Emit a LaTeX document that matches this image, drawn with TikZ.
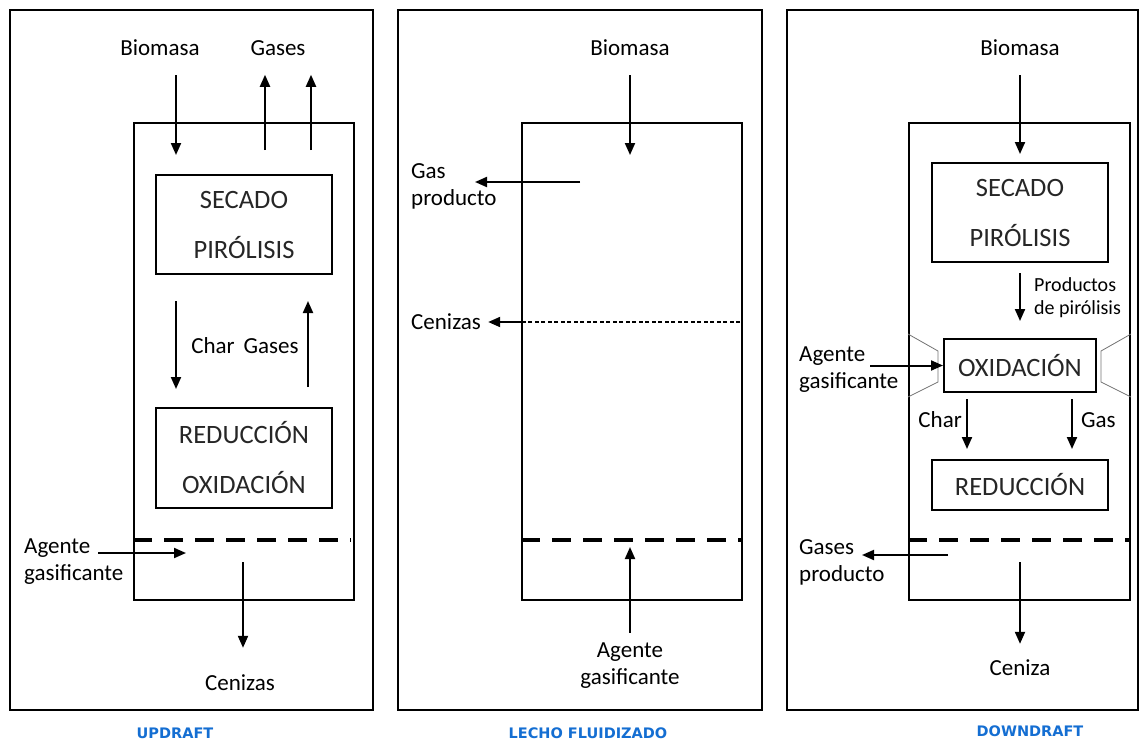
\documentclass[tikz,border=0pt]{standalone}
\usepackage{fontspec}
\setmainfont{Carlito}
\newfontfamily\capfont{DejaVu Sans}
\usetikzlibrary{arrows.meta, positioning}
\definecolor{capblue}{RGB}{20,110,210}

\begin{document}
\begin{tikzpicture}[
    x=1pt, y=-1pt,
    >={Triangle[length=12pt, width=10pt]},
    % Node styles
    framebox/.style={
        rectangle, draw=black, line width=2pt, inner sep=0pt
    },
    reactorbox/.style={
        rectangle, draw=black, line width=2pt, inner sep=0pt
    },
    stagebox/.style={
        rectangle, draw=black, line width=2pt, inner sep=0pt,
        align=center, text=black!85,
        font=\fontsize{26.5}{50}\selectfont
    },
    lbl/.style={inner sep=0pt, text=black, font=\fontsize{23}{27}\selectfont},
    smalllbl/.style={inner sep=0pt, text=black, align=left, font=\fontsize{20}{23}\selectfont},
    caplbl/.style={inner sep=0pt, text=capblue, font=\capfont\bfseries\fontsize{14.5}{17}\selectfont},
    flow/.style={->, line width=2pt, draw=black},
    grate/.style={line width=3.8pt, dash pattern=on 19pt off 12pt},
    ashline/.style={line width=1.3pt, dash pattern=on 4pt off 2.5pt},
    throat/.style={line width=0.8pt, draw=black!55},
]
\useasboundingbox (0,0) rectangle (1140,742);

%% ---- PANEL 1: UPDRAFT ----
\node[framebox, minimum width=363pt, minimum height=700pt] (upframe) at (191.5,360) {};
\node[reactorbox, minimum width=220pt, minimum height=477pt] (upreactor) at (244,361.5) {};
\node[stagebox, minimum width=176pt, minimum height=99pt] (upsecado) at (244,224.5) {SECADO\\PIRÓLISIS};
\node[stagebox, minimum width=176pt, minimum height=100pt] (upreduc) at (244,458) {REDUCCIÓN\\OXIDACIÓN};
\draw[grate] (upreactor.west |- 0,540) -- ([xshift=-4pt]upreactor.east |- 0,540);

\node[lbl] (upbio) at (160,48) {Biomasa};
\node[lbl] (upgas) at (278,48) {Gases};
\coordinate (upfeed) at (176,155);
\coordinate (upgasa) at (265,150);
\coordinate (upgasb) at (311,150);
\draw[flow, shorten <=19pt] (upfeed |- upbio.south) -- (upfeed);
\draw[flow, shorten >=19pt] (upgasa) -- (upgasa |- upgas.south);
\draw[flow, shorten >=19pt] (upgasb) -- (upgasb |- upgas.south);

% Char down, gases up
\draw[flow, shorten <=26pt, shorten >=18pt] ([xshift=-68pt]upsecado.south) -- ([xshift=-68pt]upreduc.north);
\draw[flow, shorten <=20pt, shorten >=26pt] ([xshift=64pt]upreduc.north) -- ([xshift=64pt]upsecado.south);
\node[lbl] (upmid) at (245,346) {Char\hspace{9pt}Gases};

\node[lbl, align=left, anchor=west] (upagente) at (24,562) {Agente\\gasificante};
\coordinate (upairin) at (186,553);
\draw[flow] ([xshift=74pt]upagente.west |- upairin) -- (upairin);

\coordinate (upashout) at (243,562);
\node[lbl] (upcen) at (240,683) {Cenizas};
\draw[flow, shorten >=27pt] (upashout) -- (upashout |- upcen.north);

\node[caplbl] (upcap) at (175,733) {UPDRAFT};

%% ---- PANEL 2: LECHO FLUIDIZADO ----
\node[framebox, minimum width=364pt, minimum height=700pt] (flframe) at (580,360) {};
\node[reactorbox, minimum width=220pt, minimum height=477pt] (flreactor) at (632,361.5) {};

\node[lbl] (flbio) at (630,48) {Biomasa};
\coordinate (flfeed) at (630,155);
\draw[flow, shorten <=19pt] (flfeed |- flbio.south) -- (flfeed);

\node[lbl, align=left, anchor=west] (flgasprod) at (411,186) {Gas\\producto};
\coordinate (flgasout) at (580,182);
\draw[flow] (flgasout) -- ([xshift=64pt]flgasprod.west |- flgasout);

\node[lbl, anchor=west] (flcen) at (411,322) {Cenizas};
\coordinate (flash) at (740,322);
\draw[ashline] (flash) -- (flreactor.west |- flash);
\draw[flow] (flreactor.west |- flash) -- ([xshift=7pt]flcen.east);

\draw[grate] (flreactor.west |- 0,540) -- ([xshift=-2pt]flreactor.east |- 0,540);
\node[lbl, align=center] (flagente) at (630,666) {Agente\\gasificante};
\coordinate (flairin) at (630,547);
\draw[flow, shorten <=10pt] (flagente.north) -- (flairin);

\node[caplbl] (flcap) at (588,733) {LECHO FLUIDIZADO};

%% ---- PANEL 3: DOWNDRAFT ----
\node[framebox, minimum width=351pt, minimum height=700pt] (dnframe) at (962.5,360) {};
\node[reactorbox, minimum width=221pt, minimum height=477pt] (dnreactor) at (1019.5,361.5) {};
\node[stagebox, minimum width=176pt, minimum height=99pt] (dnsecado) at (1020,212.5) {SECADO\\PIRÓLISIS};
\node[stagebox, minimum width=152pt, minimum height=53pt] (dnoxid) at (1020,365.5) {OXIDACIÓN};
\node[stagebox, minimum width=176pt, minimum height=50pt] (dnreduc) at (1020,485) {REDUCCIÓN};

% throat
\draw[throat] (dnreactor.west |- 0,334) -- (938,351) -- (938,382) -- (dnreactor.west |- 0,397);
\draw[throat] (dnreactor.east |- 0,334) -- (1101,351) -- (1101,382) -- (dnreactor.east |- 0,397);

\node[lbl] (dnbio) at (1020,48) {Biomasa};
\draw[flow, shorten <=19pt, shorten >=8pt] (dnbio.south) -- (dnsecado.north);
\draw[flow, shorten <=10pt, shorten >=17pt] (dnsecado.south) -- (dnoxid.north);
\node[smalllbl, anchor=west] (dnprod) at (1034,298) {Productos\\de pirólisis};

\node[lbl, align=left, anchor=west] (dnagente) at (799,370) {Agente\\gasificante};
\draw[flow] ([xshift=71pt]dnagente.west |- dnoxid.west) -- (dnoxid.west);

\draw[flow, shorten <=6pt, shorten >=10pt] ([xshift=-53pt]dnoxid.south) -- ([xshift=-53pt]dnreduc.north);
\draw[flow, shorten <=6pt, shorten >=10pt] ([xshift=52pt]dnoxid.south) -- ([xshift=52pt]dnreduc.north);
\node[lbl, anchor=east] (dnchar) at (962,420) {Char};
\node[lbl, anchor=west] (dngas) at (1081,420) {Gas};

\draw[grate] (dnreactor.west |- 0,540) -- ([xshift=-2pt]dnreactor.east |- 0,540);
\node[lbl, align=left, anchor=west] (dngasprod) at (799,562) {Gases\\producto};
\coordinate (dngasout) at (948,555);
\draw[flow] (dngasout) -- ([xshift=63pt]dngasprod.west |- dngasout);

\coordinate (dnashout) at (1020,562);
\node[lbl] (dncen) at (1020,668) {Ceniza};
\draw[flow, shorten >=16pt] (dnashout) -- (dnashout |- dncen.north);

\node[caplbl] (dncap) at (1030,731) {DOWNDRAFT};

\end{tikzpicture}
\end{document}
